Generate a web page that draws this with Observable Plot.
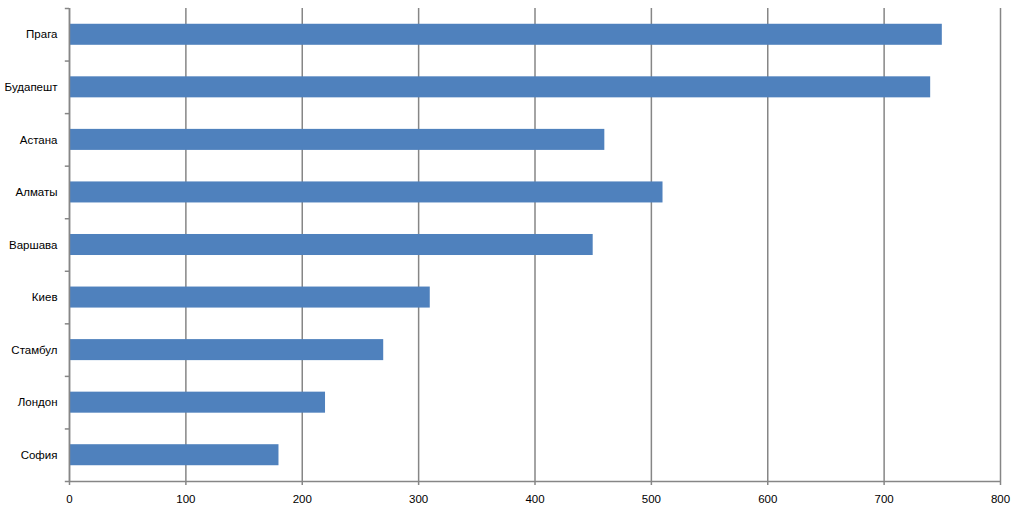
<!DOCTYPE html>
<html>
<head>
<meta charset="utf-8">
<script src="https://cdn.jsdelivr.net/npm/d3@7"></script>
<script src="https://cdn.jsdelivr.net/npm/@observablehq/plot@0.6"></script>
<style>
  html, body { margin: 0; padding: 0; background: #fff; }
  #chart svg { display: block; }
</style>
</head>
<body>
<div id="chart"></div>
<script>
const cities = ["Прага", "Будапешт", "Астана", "Алматы", "Варшава", "Киев", "Стамбул", "Лондон", "София"];
const values = [750, 740, 460, 510, 450, 310, 270, 220, 180];
const xTicks = [0, 100, 200, 300, 400, 500, 600, 700, 800];

const data = cities.map((c, i) => ({city: c, value: values[i]}));

const W = 1023, H = 511;
const mTop = 8, mBottom = 30, mLeft = 69, mRight = 23;
const step = (H - mTop - mBottom) / cities.length;
const gridColor = "#868686";
const font = "'Liberation Sans', Arial, sans-serif";

const chart = Plot.plot({
  width: W,
  height: H,
  marginTop: mTop,
  marginBottom: mBottom,
  marginLeft: mLeft,
  marginRight: mRight,
  style: {fontFamily: font, fontSize: "11.5px", color: "#000", background: "#fff"},
  x: {domain: [0, 800], ticks: xTicks, label: null},
  y: {domain: cities, paddingInner: 0.6, paddingOuter: 0.3, round: false, label: null},
  marks: [
    Plot.gridX(xTicks, {stroke: gridColor, strokeOpacity: 1, strokeWidth: 1.5}),
    Plot.barX(data, {x: "value", y: "city", fill: "#4F81BD"}),
    // category boundary ticks on the y axis
    Plot.ruleY(cities, {y: d => d, x1: -3.6, x2: 0, dy: -step / 2, stroke: gridColor, strokeWidth: 1.5}),
    Plot.ruleY([cities[cities.length - 1]], {y: d => d, x1: -3.6, x2: 0, dy: step / 2, stroke: gridColor, strokeWidth: 1.5}),
    Plot.ruleX([0], {stroke: gridColor, strokeWidth: 1.5}),
    Plot.ruleY([cities[cities.length - 1]], {y: d => d, x1: 0, x2: 800, dy: step / 2, stroke: gridColor, strokeWidth: 1.5}),
    Plot.axisX(xTicks, {tickSize: 4, tickPadding: 9, stroke: gridColor, strokeWidth: 1.5, label: null, fill: "#000"}),
    Plot.axisY({tickSize: 0, tickPadding: 12, label: null, fill: "#000"})
  ]
});
document.getElementById("chart").appendChild(chart);
</script>
</body>
</html>
